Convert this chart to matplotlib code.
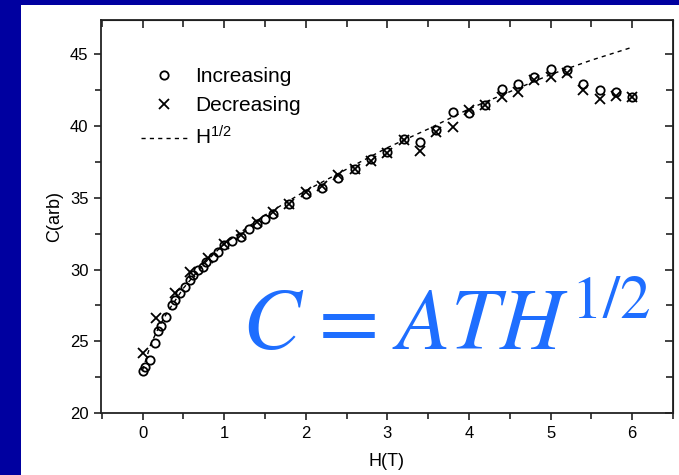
import matplotlib
matplotlib.use("Agg")
import matplotlib.pyplot as plt
from matplotlib.patches import Rectangle
from matplotlib.ticker import MultipleLocator

plt.rcParams['font.family'] = ['Liberation Sans', 'DejaVu Sans']
plt.rcParams['mathtext.fontset'] = 'stix'

# data
h_inc = [0.00, 0.03, 0.09, 0.15, 0.19, 0.23, 0.29, 0.36, 0.40, 0.46, 0.52, 0.58,
         0.62, 0.68, 0.74, 0.78, 0.86, 0.92, 1.00, 1.10, 1.20, 1.30, 1.40, 1.50,
         1.60, 1.80, 2.00, 2.20, 2.40, 2.60, 2.80, 3.00, 3.20, 3.40, 3.60, 3.80,
         4.00, 4.20, 4.40, 4.60, 4.80, 5.00, 5.20, 5.40, 5.60, 5.80, 6.00]
c_inc = [22.95, 23.2, 23.7, 24.9, 25.7, 26.1, 26.7, 27.5, 27.9, 28.4, 28.8, 29.3,
         29.6, 29.95, 30.2, 30.5, 30.9, 31.2, 31.7, 32.0, 32.3, 32.8, 33.2, 33.5,
         33.9, 34.6, 35.3, 35.7, 36.4, 37.0, 37.7, 38.2, 39.1, 38.9, 39.7, 41.0,
         40.9, 41.5, 42.6, 42.95, 43.4, 44.0, 43.9, 42.95, 42.5, 42.4, 42.0]

h_dec = [0.00, 0.17, 0.40, 0.58, 0.80, 1.00, 1.20, 1.40, 1.60, 1.80, 2.00, 2.20,
         2.40, 2.60, 2.80, 3.00, 3.20, 3.40, 3.60, 3.80, 4.00, 4.20, 4.40, 4.60,
         4.80, 5.00, 5.20, 5.40, 5.60, 5.80, 6.00]
c_dec = [24.2, 26.6, 28.4, 29.8, 30.8, 31.8, 32.4, 33.3, 34.0, 34.6, 35.4, 35.8,
         36.6, 37.0, 37.6, 38.1, 39.0, 38.3, 39.6, 39.95, 41.1, 41.45, 42.0, 42.4,
         43.2, 43.4, 43.7, 42.5, 41.9, 42.1, 42.0]

h_fit = [0.0, 0.1, 0.2, 0.3, 0.5, 0.75, 1.0, 1.5, 2.0, 2.5, 3.0, 3.5, 4.0, 4.5,
         5.0, 5.5, 6.0]
c_fit = [23.0, 24.8, 26.0, 27.0, 28.7, 30.4, 31.8, 33.8, 35.5, 37.0, 38.5, 39.8,
         41.2, 42.4, 43.6, 44.6, 45.5]

navy = '#0000A0'
blue = '#1e6eff'

fig = plt.figure(figsize=(6.79, 4.75), dpi=100, facecolor=navy)
fig.patches.append(Rectangle((21 / 679, 0), 1, 1 - 5 / 475, transform=fig.transFigure,
                             facecolor='white', edgecolor='none', zorder=-10))

ax = fig.add_axes([101 / 679, 1 - 413 / 475, 572 / 679, 393 / 475])
ax.set_facecolor('white')

ax.plot(h_fit, c_fit, ls=(0, (3, 3)), color='black', lw=1.0, label=r'$\mathregular{H^{1/2}}$', zorder=2)
ax.plot(h_inc, c_inc, 'o', mfc='none', mec='black', mew=1.3, ms=6, label='Increasing', zorder=3)
ax.plot(h_dec, c_dec, 'x', color='black', mew=1.3, ms=7, label='Decreasing', zorder=3)

ax.set_xlim(-0.51, 6.5)
ax.set_ylim(20, 47.4)
ax.xaxis.set_major_locator(MultipleLocator(1))
ax.xaxis.set_minor_locator(MultipleLocator(0.5))
ax.yaxis.set_major_locator(MultipleLocator(5))
ax.yaxis.set_minor_locator(MultipleLocator(2.5))
ax.tick_params(which='both', direction='out', labelsize=12, width=1.2, color='#222222')
ax.tick_params(which='major', length=5, pad=4)
ax.tick_params(which='minor', length=4)
for s in ax.spines.values():
    s.set_linewidth(1.3)
    s.set_color('#222222')

secx = ax.secondary_xaxis('top')
secx.xaxis.set_major_locator(MultipleLocator(1))
secx.xaxis.set_minor_locator(MultipleLocator(0.5))
secx.tick_params(which='both', direction='in', labeltop=False, width=1.2, color='#222222')
secx.tick_params(which='major', length=6)
secx.tick_params(which='minor', length=5)
secy = ax.secondary_yaxis('right')
secy.yaxis.set_major_locator(MultipleLocator(5))
secy.yaxis.set_minor_locator(MultipleLocator(2.5))
secy.tick_params(which='both', direction='in', labelright=False, width=1.2, color='#222222')
secy.tick_params(which='major', length=6)
secy.tick_params(which='minor', length=5)

ax.set_xlabel('H(T)', fontsize=13, labelpad=9)
ax.set_ylabel('C(arb)', fontsize=13, labelpad=5)

handles, labels = ax.get_legend_handles_labels()
order = [1, 2, 0]
ax.legend([handles[i] for i in order], [labels[i] for i in order], loc='upper left',
          bbox_to_anchor=(0.055, 0.902), frameon=False, fontsize=15, handlelength=2.2,
          handletextpad=0.4, labelspacing=0.5, borderaxespad=0)

fig.text(242 / 679, 1 - 350 / 475, r'$C\hspace{0.08}=\hspace{0.1}ATH^{1/2}$', color=blue,
         fontsize=63, ha='left', va='baseline')

fig.savefig('out.png', dpi=100, facecolor=navy)
